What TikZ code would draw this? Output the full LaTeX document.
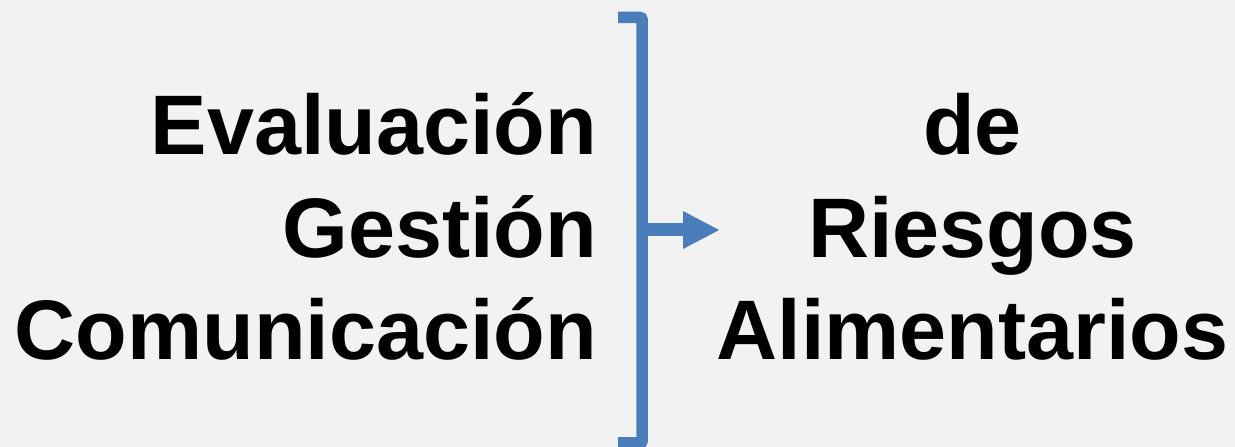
\documentclass[tikz,border=0pt]{standalone}
\usepackage{fontspec}
\setmainfont{Liberation Sans}
\usetikzlibrary{arrows.meta}
\definecolor{fondo}{HTML}{F2F2F2}
\definecolor{azul}{HTML}{4A7EBB}
\begin{document}
\begin{tikzpicture}[x=1pt,y=1pt,
    every node/.style={inner sep=0pt, outer sep=0pt, font=\fontsize{84.5}{102.5}\bfseries\selectfont},
    llave/.style={draw=azul, line width=11.5pt, rounded corners=2pt},
    flecha/.style={draw=azul, line width=13pt, -{Triangle[length=37pt,width=35pt]}}]
            \fill[fondo] (0,0) rectangle (1235,447);
            \useasboundingbox (0,0) rectangle (1235,447);
            % bloque izquierdo
            \node[anchor=base east] (eva) at (597,292) {Evaluación};
            \node[anchor=base east] (ges) at (597,189.5) {Gestión};
            \node[anchor=base east] (com) at (597,87) {Comunicación};
            % bloque derecho
            \node[anchor=base] (de) at (972.5,292) {de};
            \node[anchor=base] (rie) at (972.5,189.5) {Riesgos};
            \node[anchor=base] (ali) at (972.5,87) {Alimentarios};
            % llave y flecha
            \coordinate (arr) at (618,429.5);
            \coordinate (aba) at (618,4);
            \coordinate (med) at (642,217);
            \coordinate (pun) at (720,217);
            \draw[llave] (arr) -| (med) |- (aba);
            \draw[flecha] (med) -- (pun);
        \end{tikzpicture}
\end{document}
